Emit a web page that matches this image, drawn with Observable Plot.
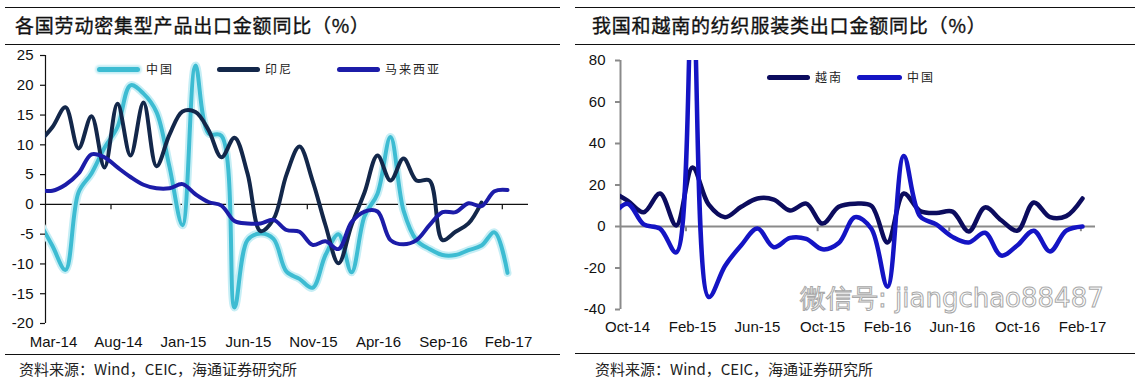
<!DOCTYPE html>
<html>
<head>
<meta charset="utf-8">
<script src="https://cdn.jsdelivr.net/npm/d3@7"></script>
<script src="https://cdn.jsdelivr.net/npm/@observablehq/plot@0.6"></script>
<style>
  html, body { margin: 0; padding: 0; background: #fff; }
  #root { position: relative; width: 1139px; height: 381px; overflow: hidden; background: #fff;
          font-family: "Liberation Sans", Arial, sans-serif; }
  .panel { position: absolute; top: 0; width: 569px; height: 381px; }
  .rule { position: absolute; height: 0; border-top: 1.5px solid #111; }
  .title { position: absolute; top: 11px; font-family: "Noto Sans CJK SC", sans-serif; font-size: 19px;
           color: #111; white-space: nowrap; letter-spacing: 0.8px; -webkit-text-stroke: 0.35px #111; }
  .caption { position: absolute; top: 358px; font-family: "Noto Sans CJK SC", "Liberation Sans", sans-serif;
             font-size: 15px; color: #222; white-space: nowrap; }
  .chart { position: absolute; top: 45px; left: 0; }
  .legend { position: absolute; font-family: "Noto Sans CJK SC", sans-serif; font-size: 12px; color: #222;
            letter-spacing: 2px; white-space: nowrap; }
  .sw { position: absolute; height: 5px; border-radius: 3px; }
  .wm { position: absolute; left: 800px; top: 281px; font-family: "DejaVu Sans", sans-serif; font-size: 26px;
        color: rgba(255,255,255,0.6); -webkit-text-stroke: 1px #a8a8a8; white-space: nowrap; }
</style>
</head>
<body>
<div id="root">
  <div class="panel" id="left">
    <div class="rule" style="top:7px;left:5px;width:555px"></div>
    <div class="title" style="left:15px">各国劳动密集型产品出口金额同比（%）</div>
    <div class="rule" style="top:44px;left:5px;width:555px"></div>
    <div class="chart" id="chartL"></div>
    <div class="rule" style="top:354px;left:5px;width:555px"></div>
    <div class="caption" style="left:19px">资料来源：Wind，CEIC，海通证券研究所</div>
  </div>
  <div class="panel" id="right" style="left:570px">
    <div class="rule" style="top:7px;left:5px;width:560px"></div>
    <div class="title" style="left:22px">我国和越南的纺织服装类出口金额同比（%）</div>
    <div class="rule" style="top:44px;left:5px;width:560px"></div>
    <div class="chart" id="chartR"></div>
    <div class="rule" style="top:353px;left:5px;width:560px"></div>
    <div class="caption" style="left:25px">资料来源：Wind，CEIC，海通证券研究所</div>
  </div>
  <div class="wm">微信号: jiangchao88487</div>
</div>
<script>
// ---------- Left chart data (monthly, index 0 = Mar-14; index -1 = Feb-14) ----------
const leftStart = -1;
const leftTickLabels = ["Mar-14","Aug-14","Jan-15","Jun-15","Nov-15","Apr-16","Sep-16","Feb-17"];
const leftTickIdx = [0, 5, 10, 15, 20, 25, 30, 35];
const leftYTicks = [25, 20, 15, 10, 5, 0, -5, -10, -15, -20];
const leftXTickMarks = [4.5, 19.6, 34.6];
const leftSeriesNames = ["中国", "印尼", "马来西亚"];
const leftChina = [-3, -7, -11, 2, 5.2, 9.5, 13, 20, 18.6, 15.5, 6.3, -3.5, 23.3, 11.9, 11.5, -17.3, -6, -4.9, -5.8, -11.3, -12.5, -14, -8.5, -5, -11.4, -2, 1.8, 11.3, -1, -6, -7.5, -8.5, -8.5, -7.7, -6.9, -4.7, -11.5];
const leftIndonesia = [10.5, 13, 16.3, 9.4, 14.8, 6.2, 16.9, 8.2, 17.1, 6.4, 11.7, 15.6, 15.5, 12.5, 7.9, 11.2, 5.2, -4.5, -2.5, 5, 9.7, 4, -3.5, -9.9, -3.5, 2, 8.2, 4, 7.7, 4, 4, -6, -4.6, -3.2, 0.3];
const leftMalaysia = [2.4, 2.3, 3.3, 5.2, 8.4, 7.9, 6.2, 4.6, 3.3, 2.7, 2.7, 3.4, 1.7, 0.4, -0.2, -2.8, -3.2, -3.2, -2.6, -4.3, -4.6, -6.8, -6.2, -7.5, -3, -1.2, -1.2, -6, -6.7, -6, -3.5, -1.3, -1.3, 0.2, -0.3, 2.2, 2.4];

// ---------- Right chart data (monthly, index 0 = Oct-14; index -1 = Sep-14) ----------
const rightStart = -1;
const rightTickLabels = ["Oct-14","Feb-15","Jun-15","Oct-15","Feb-16","Jun-16","Oct-16","Feb-17"];
const rightTickIdx = [0, 4, 8, 12, 16, 20, 24, 28];
const rightYTicks = [80, 60, 40, 20, 0, -20, -40];
const rightXTickMarks = [3.6, 11.7, 19.8, 27.9];
const rightSeriesNames = ["越南", "中国"];
const rightVietnam = [17, 12.5, 6.9, 15.9, 0.5, 28.4, 10.5, 4.5, 9.5, 13.5, 13, 7.7, 11, 1.4, 9.5, 11, 10, -7.7, 15.9, 7.5, 6.5, 7.2, -2.4, 9.2, 3, -2, 11.6, 4.5, 5, 13.5];
const rightChina = [5, 11, 1, -1, -12.5, 110, -34, -19, -9, -1, -10, -5.5, -6, -11, -8, 4.5, -1, -29, 34, 5, 1, -5, -7.7, -3, -14, -9, -2, -12, -2, 0];

// ---------- Colours ----------
const cCyan = "#3dbcd2", cCyanGlow = "#c6eef5", cIndo = "#13274a", cMalay = "#1c1ca8";
const cViet = "#0c0c5e", cChinaR = "#1414c4";

function rows(values, start, name) {
  return values.map((v, k) => ({i: start + k, v, name}));
}

const font = '"Liberation Sans", Arial, sans-serif';

// ---------- Left chart ----------
const lX = [-7 / 13, 476 / 13];
const chartL = Plot.plot({
  width: 569, height: 309,
  marginLeft: 45, marginRight: 41, marginTop: 10, marginBottom: 31,
  style: {fontFamily: font, fontSize: "15px", color: "#111", background: "transparent", overflow: "visible"},
  x: {domain: lX},
  y: {domain: [-20, 25]},
  marks: [
    Plot.ruleX([lX[0]], {y1: -20, y2: 25, stroke: "#111", strokeWidth: 1.2}),
    Plot.axisY({ticks: leftYTicks, tickSize: 5, tickPadding: 7, tickFormat: d => String(d), label: null, strokeWidth: 1.2}),
    Plot.axisX({ticks: leftTickIdx, tickFormat: (d) => leftTickLabels[leftTickIdx.indexOf(d)], tickSize: 0, tickPadding: 13, label: null, dx: 1}),
    Plot.ruleY([0], {x1: lX[0], x2: lX[1], stroke: "#111", strokeWidth: 1.2}),
    Plot.ruleX(leftXTickMarks, {y1: 0, y2: -0.9, stroke: "#111", strokeWidth: 1.2}),
    Plot.line(rows(leftChina, leftStart, leftSeriesNames[0]), {x: "i", y: "v", stroke: cCyanGlow, strokeWidth: 8, curve: "catmull-rom", clip: true}),
    Plot.line(rows(leftChina, leftStart, leftSeriesNames[0]), {x: "i", y: "v", stroke: cCyan, strokeWidth: 4, curve: "catmull-rom", clip: true}),
    Plot.line(rows(leftIndonesia, leftStart, leftSeriesNames[1]), {x: "i", y: "v", stroke: cIndo, strokeWidth: 4, curve: "catmull-rom", clip: true}),
    Plot.line(rows(leftMalaysia, leftStart, leftSeriesNames[2]), {x: "i", y: "v", stroke: cMalay, strokeWidth: 4, curve: "catmull-rom", clip: true})
  ]
});
document.getElementById("chartL").appendChild(chartL);

// ---------- Right chart ----------
const rX = [-7 / 16.25, 468 / 16.25];
const chartR = Plot.plot({
  width: 569, height: 309,
  marginLeft: 50, marginRight: 44, marginTop: 15, marginBottom: 45,
  style: {fontFamily: font, fontSize: "15px", color: "#111", background: "transparent", overflow: "visible"},
  x: {domain: rX},
  y: {domain: [-40, 80]},
  marks: [
    Plot.ruleX([rX[0]], {y1: -40, y2: 80, stroke: "#8a8a8a", strokeWidth: 2}),
    Plot.axisY({ticks: rightYTicks, tickSize: 5, tickPadding: 10, tickFormat: d => String(d), label: null, stroke: "#8a8a8a", strokeWidth: 2, fill: "#111"}),
    Plot.axisX({ticks: rightTickIdx, tickFormat: (d) => rightTickLabels[rightTickIdx.indexOf(d)], tickSize: 0, tickPadding: 12, label: null, dx: 0}),
    Plot.ruleY([0], {x1: rX[0], x2: rX[1], stroke: "#8a8a8a", strokeWidth: 2}),
    Plot.ruleX(rightXTickMarks, {y1: 0, y2: -2.5, stroke: "#8a8a8a", strokeWidth: 2}),
    Plot.line(rows(rightVietnam, rightStart, rightSeriesNames[0]), {x: "i", y: "v", stroke: cViet, strokeWidth: 4.5, curve: "catmull-rom", clip: true}),
    Plot.line(rows(rightChina, rightStart, rightSeriesNames[1]), {x: "i", y: "v", stroke: cChinaR, strokeWidth: 4.5, curve: "catmull-rom", clip: true})
  ]
});
document.getElementById("chartR").appendChild(chartR);

// ---------- Legends ----------
function legend(panelId, items, top) {
  const panel = document.getElementById(panelId);
  items.forEach(it => {
    const sw = document.createElement("div");
    sw.className = "sw";
    sw.style.left = it.sx + "px"; sw.style.width = it.sw + "px"; sw.style.top = (top - 2.5) + "px";
    sw.style.background = it.color;
    if (it.glow) sw.style.boxShadow = "0 0 2px 2px " + it.glow;
    panel.appendChild(sw);
    const t = document.createElement("div");
    t.className = "legend";
    t.style.left = it.tx + "px"; t.style.top = (top - 9) + "px";
    t.textContent = it.name;
    panel.appendChild(t);
  });
}
legend("left", [
  {name: leftSeriesNames[0], color: cCyan, glow: cCyanGlow, sx: 97, sw: 43, tx: 146},
  {name: leftSeriesNames[1], color: cIndo, sx: 217, sw: 43, tx: 265},
  {name: leftSeriesNames[2], color: cMalay, sx: 337, sw: 43, tx: 385}
], 69);
legend("right", [
  {name: rightSeriesNames[0], color: cViet, sx: 197, sw: 43, tx: 245},
  {name: rightSeriesNames[1], color: cChinaR, sx: 287, sw: 45, tx: 337}
], 77);
</script>
</body>
</html>
